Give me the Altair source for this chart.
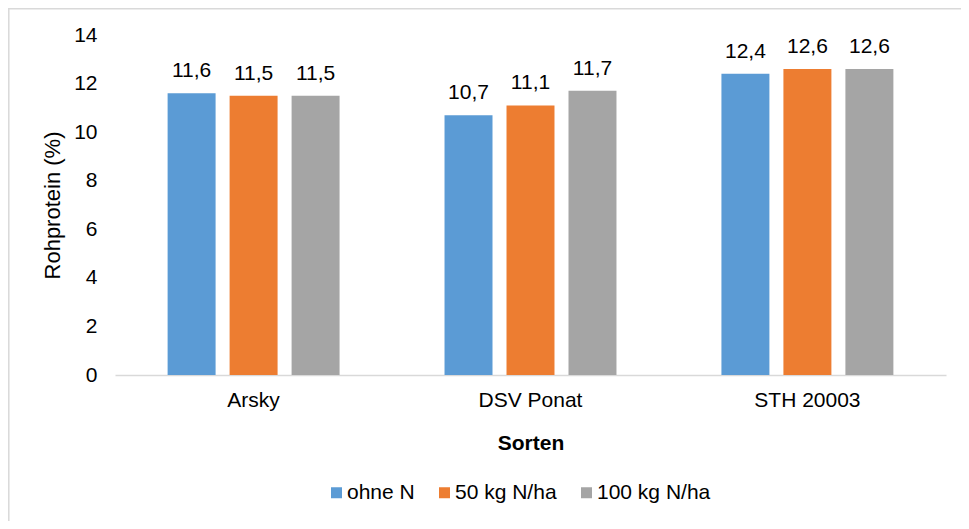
import altair as alt
import pandas as pd

sorten = ["Arsky", "DSV Ponat", "STH 20003"]
serien = ["ohne N", "50 kg N/ha", "100 kg N/ha"]
ohne_n = [11.6, 10.7, 12.4]
n50 = [11.5, 11.1, 12.6]
n100 = [11.5, 11.7, 12.6]
farben = ["#5B9BD5", "#ED7D31", "#A5A5A5"]
y_ticks = [0, 2, 4, 6, 8, 10, 12, 14]

rows = []
for i, s in enumerate(sorten):
    for name, vals in zip(serien, [ohne_n, n50, n100]):
        rows.append({"Sorte": s, "Serie": name, "Wert": vals[i]})
df = pd.DataFrame(rows)

FONT = "Liberation Sans"
FS = 21

x_enc = alt.X("Sorte:N", sort=sorten,
              scale=alt.Scale(paddingInner=0.379, paddingOuter=0.19),
              axis=alt.Axis(title="Sorten", labelAngle=0, labelFontSize=FS, labelPadding=14,
                            ticks=False, domainColor="#D9D9D9", domainWidth=1.5,
                            titleFontSize=FS, titleFontWeight="bold", titlePadding=22,
                            labelColor="black", titleColor="black"))
xo_enc = alt.XOffset("Serie:N", sort=serien, scale=alt.Scale(paddingInner=0.226, paddingOuter=0))
y_enc = alt.Y("Wert:Q", scale=alt.Scale(domain=[0, 14], nice=False),
              axis=alt.Axis(values=y_ticks, title="Rohprotein (%)", domain=False, ticks=False, grid=False,
                            labelFontSize=FS, labelPadding=18, titleFontSize=22,
                            titleFontWeight="normal", titlePadding=9,
                            labelColor="black", titleColor="black"))

base = alt.Chart(df)

bars = base.mark_bar().encode(
    x=x_enc, xOffset=xo_enc, y=y_enc,
    color=alt.Color("Serie:N", sort=serien, scale=alt.Scale(domain=serien, range=farben),
                    legend=alt.Legend(title=None, orient="none", direction="horizontal",
                                      legendX=211, legendY=447, symbolType="square", symbolSize=121,
                                      symbolStrokeWidth=0, labelFontSize=FS, labelOffset=0,
                                      columnPadding=19, labelColor="black")),
)

labels = base.mark_text(dy=-16, fontSize=FS, baseline="alphabetic", color="black").encode(
    x=alt.X("Sorte:N", sort=sorten), xOffset=alt.XOffset("Serie:N", sort=serien), y="Wert:Q",
    text="lbl:N",
).transform_calculate(lbl="replace(format(datum.Wert, '.1f'), '.', ',')")

edge = pd.DataFrame({"a": [0]})
left_line = alt.Chart(edge).mark_rule(color="#D9D9D9", strokeWidth=1.5).encode(
    x=alt.value(-106.2), y=alt.value(-27), y2=alt.value(486)
)
top_line = alt.Chart(edge).mark_rule(color="#D9D9D9", strokeWidth=1.5).encode(
    x=alt.value(-107), x2=alt.value(846), y=alt.value(-26.2)
)

chart = alt.layer(left_line, top_line, bars, labels).properties(
    width=831, height=340,
    autosize=alt.AutoSizeParams(type="none"),
    padding={"left": 107, "top": 27, "right": 15, "bottom": 146},
).configure(font=FONT).configure_view(stroke=None)

chart.save("out.html", embed_options={"renderer": "svg", "actions": False})
